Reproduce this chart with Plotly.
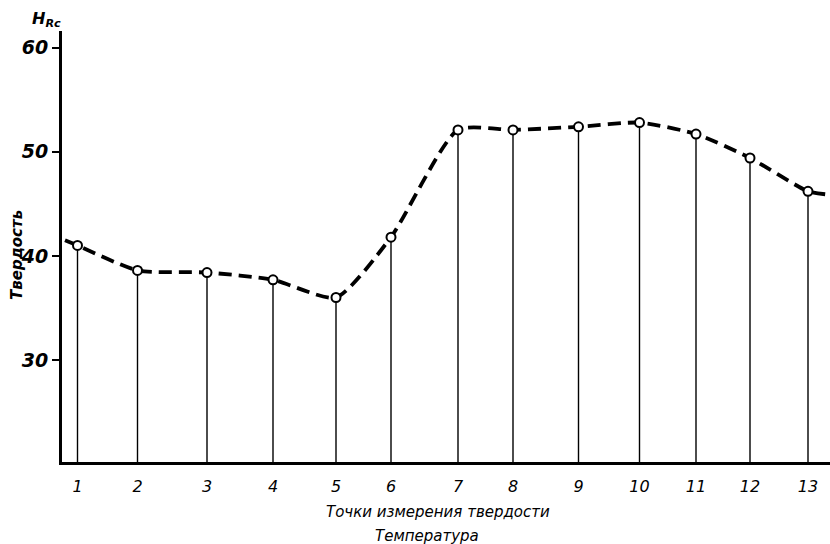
import plotly.graph_objects as go

# Measurement points
point_labels = ["1", "2", "3", "4", "5", "6", "7", "8", "9", "10", "11", "12", "13"]
positions = [1.55, 7.55, 14.5, 21.1, 27.4, 32.9, 39.6, 45.1, 51.65, 57.75, 63.4, 68.8, 74.6]
hardness = [41.0, 38.6, 38.4, 37.7, 36.0, 41.8, 52.1, 52.1, 52.4, 52.8, 51.7, 49.4, 46.2]

# dashed curve extends slightly beyond the first and last points
curve_start = (0.3, 41.5)
curve_end = (76.5, 45.9)

y_ticks = [30, 40, 50, 60]
y_min, y_max = 20.2, 61.6
x_min, x_max = 0, 76.8

FONT = "DejaVu Sans"

fig = go.Figure()

# vertical drop lines
vx, vy = [], []
for p, v in zip(positions, hardness):
    vx += [p, p, None]
    vy += [y_min, v, None]
fig.add_trace(go.Scatter(x=vx, y=vy, mode="lines",
                         line=dict(color="black", width=1.4),
                         hoverinfo="skip", showlegend=False))

# dashed curve
cx = [curve_start[0]] + positions + [curve_end[0]]
cy = [curve_start[1]] + hardness + [curve_end[1]]
fig.add_trace(go.Scatter(x=cx, y=cy, mode="lines",
                         line=dict(color="black", width=3.8, dash="13px,7px",
                                   shape="spline", smoothing=0.6),
                         showlegend=False))

# points
fig.add_trace(go.Scatter(x=positions, y=hardness, mode="markers",
                         marker=dict(symbol="circle", size=9, color="white",
                                     line=dict(color="black", width=2)),
                         showlegend=False))

fig.update_layout(
    width=830, height=544,
    margin=dict(l=62, r=0, t=31, b=82),
    plot_bgcolor="white", paper_bgcolor="white",
    font=dict(family=FONT, color="black"),
    xaxis=dict(range=[x_min, x_max], showgrid=False, zeroline=False,
               showline=True, linecolor="black", linewidth=3,
               tickmode="array", tickvals=positions,
               ticktext=[f"<i>{t}</i>" for t in point_labels],
               ticks="", tickfont=dict(size=16, family=FONT),
               ticklabelstandoff=8),
    yaxis=dict(range=[y_min, y_max], showgrid=False, zeroline=False,
               showline=True, linecolor="black", linewidth=3,
               tickmode="array", tickvals=y_ticks,
               ticktext=[f"<b><i>{t}</i></b>" for t in y_ticks],
               ticks="outside", ticklen=7, tickwidth=2, tickcolor="black",
               tickfont=dict(size=19, family=FONT)),
)

fig.add_annotation(text="<b><i>Твердость</i></b>", xref="paper", yref="paper",
                   x=-62/768, y=(462-255)/431, xanchor="left", yanchor="middle",
                   xshift=6, textangle=-90, showarrow=False,
                   font=dict(size=15, family=FONT))
fig.add_annotation(text="<b><i>H<sub>Rc</sub></i></b>", xref="paper", yref="paper",
                   x=(46-62)/768, y=(462-19)/431, xanchor="center", yanchor="middle",
                   showarrow=False, font=dict(size=16, family=FONT))
fig.add_annotation(text="<i>Точки измерения твердости</i>", xref="paper", yref="paper",
                   x=(438-62)/768, y=(462-512)/431, xanchor="center", yanchor="middle",
                   showarrow=False, font=dict(size=15, family=FONT))
fig.add_annotation(text="<i>Температура</i>", xref="paper", yref="paper",
                   x=(427-62)/768, y=(462-536)/431, xanchor="center", yanchor="middle",
                   showarrow=False, font=dict(size=15, family=FONT))

fig.write_html("out.html")
